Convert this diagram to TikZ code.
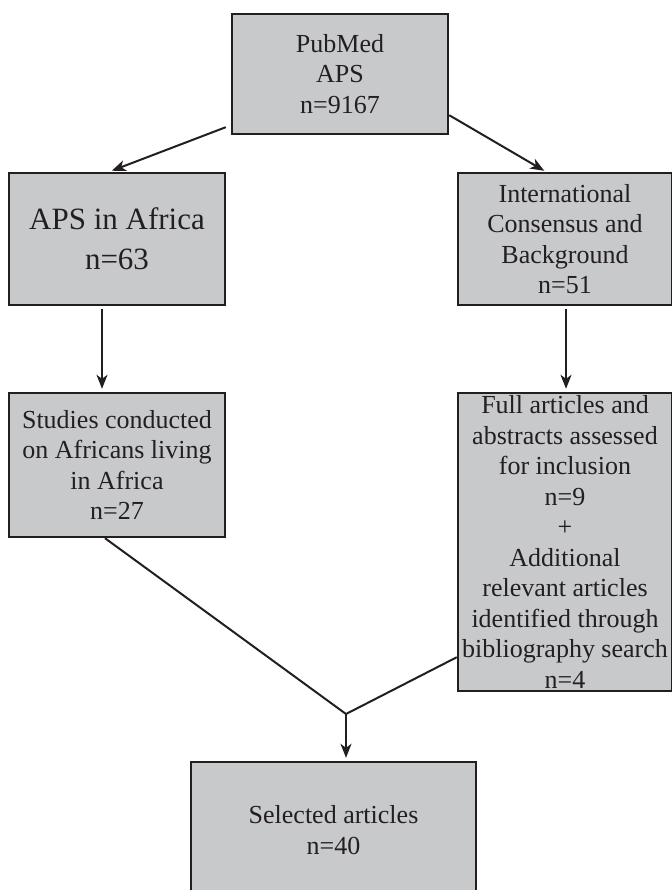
\documentclass[tikz,border=0pt]{standalone}
\usepackage{fontspec}
\setmainfont{Liberation Serif}
\usetikzlibrary{arrows.meta}
\definecolor{boxgray}{RGB}{200,201,203}
\definecolor{ink}{RGB}{35,31,32}

\begin{document}
\begin{tikzpicture}[x=1pt, y=-1pt,
    every node/.style={rectangle, draw=ink, fill=boxgray, line width=2.4pt, text=ink,
        inner sep=0pt, align=center, font=\fontsize{26}{30.5}\selectfont},
    arr/.style={draw=ink, line width=2pt, -{Stealth[length=14pt, width=11pt, inset=4pt]}},
    link/.style={draw=ink, line width=2pt}]
    \useasboundingbox (0,0) rectangle (671,890);
    % Boxes
    \node[minimum width=216pt, minimum height=120pt] (pubmed) at (340,74) {PubMed\\APS\\n=9167};
    \node[minimum width=216pt, minimum height=132pt, font=\fontsize{31}{40}\selectfont] (africa) at (117,239) {APS in Africa\\n=63};
    \node[minimum width=214pt, minimum height=132pt] (consensus) at (565,239) {International\\Consensus and\\Background\\n=51};
    \node[minimum width=216pt, minimum height=144pt] (studies) at (117,465) {Studies conducted\\on Africans living\\in Africa\\n=27};
    \node[minimum width=214pt, minimum height=298pt] (fullart) at (565,542) {Full articles and\\abstracts assessed\\for inclusion\\n=9\\+\\Additional\\relevant articles\\identified through\\bibliography search\\n=4};
    \node[minimum width=285pt, minimum height=136pt] (selected) at (333.5,830) {Selected articles\\n=40};
    \coordinate (join) at (346,714);
    % Edges
    \draw[arr, shorten >=3pt] ([xshift=-5pt, yshift=8pt]pubmed.south west) -- ([xshift=-8pt]africa.north);
    \draw[arr, shorten >=2pt] ([yshift=20pt]pubmed.south east) -- ([xshift=-19pt]consensus.north);
    \draw[arr, shorten <=3pt, shorten >=3pt] ([xshift=-15pt]africa.south) -- ([xshift=-15pt]studies.north);
    \draw[arr, shorten <=3pt, shorten >=3pt] ([xshift=1pt]consensus.south) -- ([xshift=1pt]fullart.north);
    \draw[link, line join=miter] ([xshift=-12pt]studies.south) -- (join) -- ([yshift=35pt]fullart.south west);
    \draw[arr, shorten >=3pt] (join) -- (join |- selected.north);
\end{tikzpicture}
\end{document}
